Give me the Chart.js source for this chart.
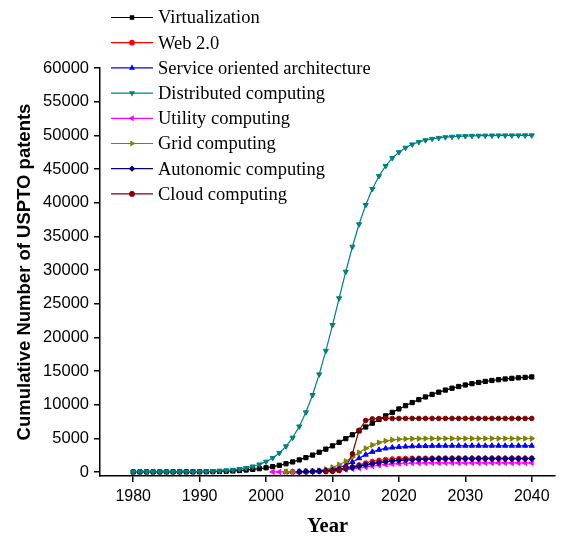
<!DOCTYPE html>
<html>
<head>
<meta charset="utf-8">
<script src="https://cdn.jsdelivr.net/npm/chart.js@4/dist/chart.umd.min.js"></script>
<style>
  html, body { margin: 0; padding: 0; background: #ffffff; }
  #wrap { width: 568px; height: 540px; }
</style>
</head>
<body>
<div id="wrap"><canvas id="chart" width="568" height="540"></canvas></div>
<script>
// Years 1980 .. 2040 (one value per year, null = no data yet)
const years = [
  1980,1981,1982,1983,1984,1985,1986,1987,1988,1989,
  1990,1991,1992,1993,1994,1995,1996,1997,1998,1999,
  2000,2001,2002,2003,2004,2005,2006,2007,2008,2009,
  2010,2011,2012,2013,2014,2015,2016,2017,2018,2019,
  2020,2021,2022,2023,2024,2025,2026,2027,2028,2029,
  2030,2031,2032,2033,2034,2035,2036,2037,2038,2039,
  2040
];

const virtualization = [
  2,3,4,5,6,8,10,13,16,20,
  25,35,50,75,105,150,210,290,380,490,
  620,790,990,1220,1490,1790,2130,2510,2930,3390,
  3880,4400,4950,5520,6100,6680,7250,7792,8329,8854,
  9362,9847,10308,10741,11143,11516,11855,12164,12443,12693,
  12918,13118,13294,13450,13587,13707,13812,13904,13984,14053,
  14115
];

const web20 = [
  null,null,null,null,null,null,null,null,null,null,
  null,null,null,null,null,null,null,null,null,null,
  null,null,null,null,10,20,35,55,85,130,
  200,330,520,780,1060,1330,1560,1730,1850,1930,
  1980,2010,2030,2040,2045,2048,2050,2050,2050,2050,
  2050,2050,2050,2050,2050,2050,2050,2050,2050,2050,
  2050
];

const soa = [
  null,null,null,null,null,null,null,null,null,null,
  null,null,null,null,null,null,null,null,null,null,
  null,null,null,10,20,35,55,90,150,250,
  400,650,1000,1480,2040,2570,2990,3290,3490,3620,
  3710,3770,3810,3840,3860,3875,3885,3890,3895,3895,
  3895,3895,3895,3895,3895,3895,3895,3895,3895,3895,
  3895
];

const distributed = [
  3,4,5,7,9,13,18,25,34,47,
  64,88,122,168,231,317,435,597,818,1120,
  1530,2083,2827,3808,5097,6757,8856,11431,14493,17992,
  21815,25800,29744,33454,36786,39656,42036,43955,45459,46620,
  47497,48160,48650,49012,49279,49474,49617,49721,49797,49853,
  49893,49922,49943,49959,49970,49978,49984,49989,49992,49994,
  49996
];

const utility = [
  null,null,null,null,null,null,null,null,null,null,
  null,null,null,null,null,null,null,null,null,null,
  null,5,10,15,25,35,50,70,100,140,
  190,260,350,460,590,730,870,1000,1110,1190,
  1250,1290,1315,1330,1340,1345,1350,1350,1350,1350,
  1350,1350,1350,1350,1350,1350,1350,1350,1350,1350,
  1350
];

const grid = [
  null,null,null,null,null,null,null,null,null,null,
  null,null,null,null,null,null,null,null,null,null,
  null,null,null,20,35,55,85,140,230,400,
  680,1080,1590,2220,2880,3500,4000,4360,4610,4770,
  4860,4910,4940,4955,4965,4970,4970,4970,4970,4970,
  4970,4970,4970,4970,4970,4970,4970,4970,4970,4970,
  4970
];

const autonomic = [
  null,null,null,null,null,null,null,null,null,null,
  null,null,null,null,null,null,null,null,null,null,
  null,null,null,null,null,30,50,80,120,180,
  260,370,510,680,870,1060,1240,1400,1530,1640,
  1720,1790,1840,1880,1910,1930,1945,1955,1962,1966,
  1970,1970,1970,1970,1970,1970,1970,1970,1970,1970,
  1970
];

const cloud = [
  null,null,null,null,null,null,null,null,null,null,
  null,null,null,null,null,null,null,null,null,null,
  null,null,null,null,null,null,null,null,null,30,
  80,200,650,2700,6200,7650,7880,7930,7945,7950,
  7950,7950,7950,7950,7950,7950,7950,7950,7950,7950,
  7950,7950,7950,7950,7950,7950,7950,7950,7950,7950,
  7950
];

const xTicks = [1980, 1990, 2000, 2010, 2020, 2030, 2040];
const yTicks = [0,5000,10000,15000,20000,25000,30000,35000,40000,45000,50000,55000,60000];

const seriesList = [
  { label: 'Virtualization',                 values: virtualization, color: '#000000', style: 'rect',     rot: 0,   r: 3   },
  { label: 'Web 2.0',                        values: web20,          color: '#ff0000', style: 'circle',   rot: 0,   r: 2.3 },
  { label: 'Service oriented architecture',  values: soa,            color: '#0000ff', style: 'triangle', rot: 0,   r: 3   },
  { label: 'Distributed computing',          values: distributed,    color: '#008080', style: 'triangle', rot: 180, r: 3   },
  { label: 'Utility computing',              values: utility,        color: '#ff00ff', style: 'triangle', rot: 270, r: 3   },
  { label: 'Grid computing',                 values: grid,           color: '#808000', style: 'triangle', rot: 90,  r: 3   },
  { label: 'Autonomic computing',            values: autonomic,      color: '#000080', style: 'rectRot',  rot: 0,   r: 3   },
  { label: 'Cloud computing',                values: cloud,          color: '#800000', style: 'circle',   rot: 0,   r: 2.3 }
];

const datasets = seriesList.map((s, i) => ({
  label: s.label,
  data: years.map((yr, k) => (s.values[k] == null ? null : { x: yr, y: s.values[k] })).filter(p => p),
  borderColor: s.color,
  backgroundColor: s.color,
  borderWidth: 1.2,
  pointStyle: s.style,
  pointRotation: s.rot,
  pointRadius: s.r,
  pointBorderWidth: 1,
  pointHoverRadius: s.r,
  tension: 0,
  order: seriesList.length - 1 - i
}));

// Legend drawn in the upper-left corner, overlapping the plot area
const sideLegend = {
  id: 'sideLegend',
  afterDraw(chart) {
    const ctx = chart.ctx;
    ctx.save();
    ctx.font = '18.5px "Liberation Serif", "Times New Roman", serif';
    ctx.textBaseline = 'middle';
    ctx.textAlign = 'left';
    chart.data.datasets.forEach((ds, i) => {
      const y = 17.5 + i * 25.2;
      ctx.strokeStyle = ds.borderColor;
      ctx.lineWidth = 1.2;
      ctx.beginPath();
      ctx.moveTo(111, y);
      ctx.lineTo(153, y);
      ctx.stroke();
      ctx.fillStyle = ds.backgroundColor;
      Chart.helpers.drawPoint(ctx, {
        pointStyle: ds.pointStyle, rotation: ds.pointRotation,
        radius: 2.3, borderWidth: 1
      }, 132, y);
      ctx.fillStyle = '#000000';
      ctx.fillText(ds.label, 158, y + 1);
    });
    ctx.restore();
  }
};

const sans = '"Liberation Sans", Arial, sans-serif';

new Chart(document.getElementById('chart'), {
  type: 'line',
  data: { datasets },
  plugins: [sideLegend],
  options: {
    responsive: false,
    animation: false,
    events: [],
    layout: { padding: { top: 68, right: 13, left: 0, bottom: 0 } },
    plugins: {
      legend: { display: false },
      tooltip: { enabled: false }
    },
    scales: {
      x: {
        type: 'linear',
        min: 1975,
        max: 2043.5,
        afterBuildTicks: s => { s.ticks = xTicks.map(v => ({ value: v })); },
        afterFit: s => { s.height = 64; },
        grid: { drawOnChartArea: false, drawTicks: true, tickLength: 6, color: '#000000', lineWidth: 1.5 },
        border: { display: true, color: '#000000', width: 1.5 },
        ticks: { color: '#000000', font: { family: sans, size: 16 }, padding: 5, maxRotation: 0, autoSkip: false,
                 callback: v => String(v) },
        title: { display: true, text: 'Year', color: '#000000',
                 font: { family: '"Liberation Serif", "Times New Roman", serif', size: 20.5, weight: 'bold' },
                 padding: { top: 0, bottom: 1 } }
      },
      y: {
        type: 'linear',
        min: -600,
        max: 60000,
        afterBuildTicks: s => { s.ticks = yTicks.map(v => ({ value: v })); },
        afterFit: s => { s.width = 100; },
        grid: { drawOnChartArea: false, drawTicks: true, tickLength: 6, color: '#000000', lineWidth: 1.5 },
        border: { display: true, color: '#000000', width: 1.5 },
        ticks: { color: '#000000', font: { family: sans, size: 16.5 }, padding: 5, autoSkip: false,
                 callback: v => String(v) },
        title: { display: true, text: 'Cumulative Number of USPTO patents', color: '#000000',
                 font: { family: sans, size: 18.5, weight: 'bold' },
                 padding: { top: 13.5, bottom: 0 } }
      }
    }
  }
});
</script>
</body>
</html>
